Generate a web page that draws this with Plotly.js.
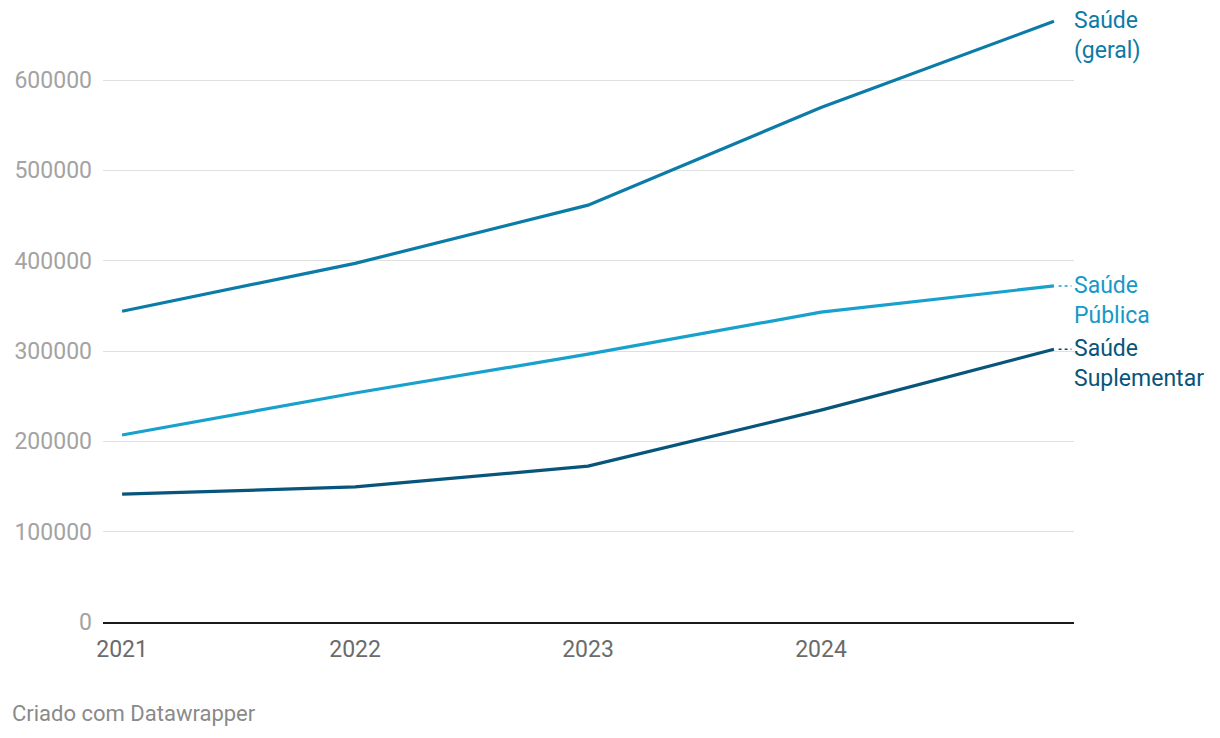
<!DOCTYPE html>
<html>
<head>
<meta charset="utf-8">
<script src="https://cdn.plot.ly/plotly-3.0.1.min.js"></script>
<style>
html,body{margin:0;padding:0;background:#fff;}
#chart{width:1220px;height:738px;}
</style>
</head>
<body>
<div id="chart"></div>
<script>
const years = [2021, 2022, 2023, 2024, 2025];
const xTickVals = [2021, 2022, 2023, 2024];
const xTickText = ['2021', '2022', '2023', '2024'];
const saudeGeral = [344000, 397000, 461500, 569500, 665000];
const saudePublica = [207000, 253500, 296500, 343000, 372000];
const saudeSuplementar = [141500, 149500, 172500, 234500, 302000];
const seriesNames = ['Saúde<br>(geral)', 'Saúde<br>Pública', 'Saúde<br>Suplementar'];
const lineColors = ['#0b7ba8', '#18a1cd', '#08557c'];
const labelColors = ['#0b7ba8', '#1699c6', '#08557c'];
const yTickVals = [0, 100000, 200000, 300000, 400000, 500000, 600000];

const allSeries = [saudeGeral, saudePublica, saudeSuplementar];
const traces = allSeries.map((vals, i) => ({
  x: years, y: vals, type: 'scatter', mode: 'lines',
  line: {color: lineColors[i], width: 3.2},
  hoverinfo: 'skip', showlegend: false
}));

const last = years.length - 1;
const annotations = allSeries.map((vals, i) => ({
  xref: 'paper', yref: 'y', x: 1, y: vals[last],
  xanchor: 'left', yanchor: 'top', yshift: 16, xshift: -2,
  text: seriesNames[i], showarrow: false, align: 'left',
  font: {family: 'Roboto', size: 23, color: labelColors[i]}
}));
annotations.push({
  xref: 'paper', yref: 'paper', x: 0, y: 0, xanchor: 'left', yanchor: 'bottom',
  xshift: -93, yshift: -106,
  text: 'Criado com Datawrapper', showarrow: false,
  font: {family: 'Roboto', size: 22, color: '#8a8a8a'}
});

const shapes = [1, 2].map(i => ({
  type: 'line', xref: 'x', yref: 'y',
  x0: years[last] + 0.02, x1: years[last] + 0.075,
  y0: allSeries[i][last], y1: allSeries[i][last],
  line: {color: lineColors[i], width: 1.5, dash: 'dot'}
}));

const layout = {
  width: 1220, height: 738,
  margin: {l: 103, r: 146, t: 10, b: 116},
  paper_bgcolor: '#fff', plot_bgcolor: '#fff',
  font: {family: 'Roboto', size: 23, color: '#666'},
  xaxis: {
    range: [2020.918, 2025.086], tickvals: xTickVals, ticktext: xTickText,
    showgrid: false, zeroline: false, showline: true, linecolor: '#1a1a1a', linewidth: 2,
    ticks: '', ticklabelstandoff: 5,
    tickfont: {family: 'Roboto', size: 23, color: '#6b6b6b'}
  },
  yaxis: {
    range: [0, 677500], tickvals: yTickVals,
    tickformat: 'd', showgrid: true, gridcolor: '#e0e0e0', gridwidth: 1,
    zeroline: false, showline: false, ticks: '', ticklabelstandoff: 10,
    tickfont: {family: 'Roboto', size: 23, color: '#a3a3a3'}
  },
  annotations: annotations,
  shapes: shapes
};

Plotly.newPlot('chart', traces, layout, {displayModeBar: false, staticPlot: true});
</script>
</body>
</html>
